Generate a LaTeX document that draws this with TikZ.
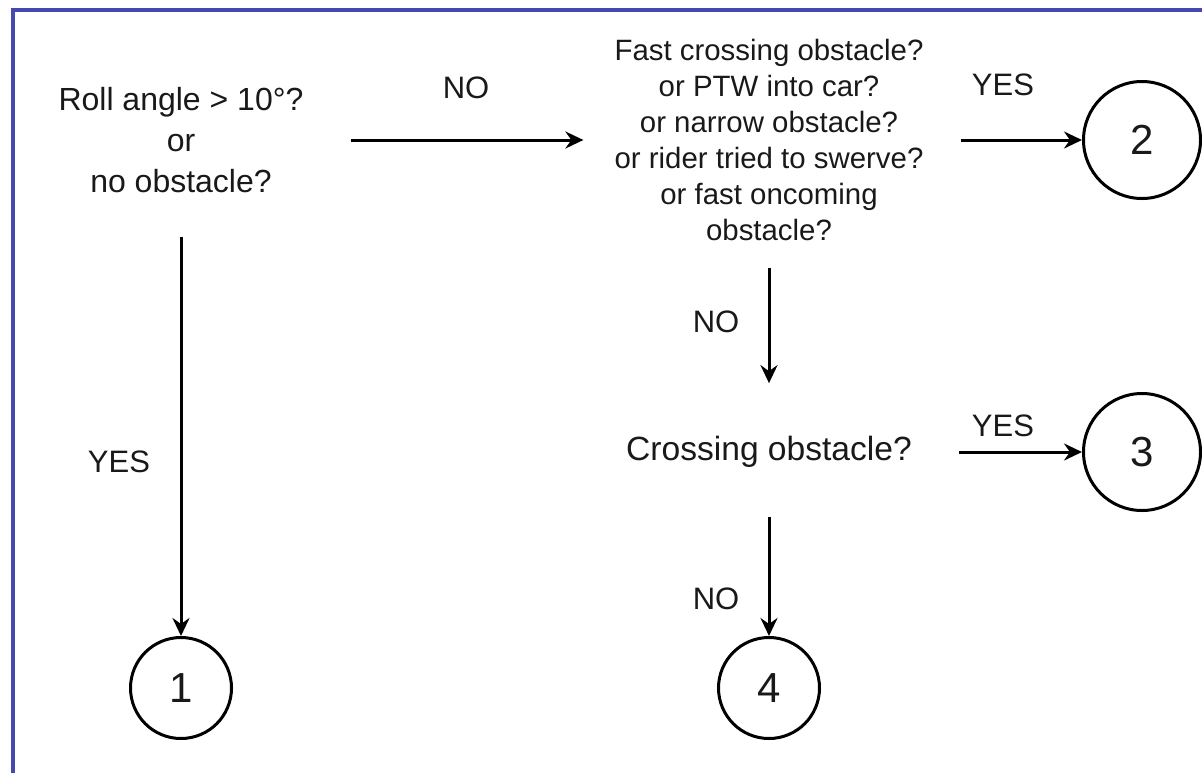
\documentclass[tikz,border=0pt]{standalone}
\usepackage{fontspec}
\setmainfont{Liberation Sans}
\usetikzlibrary{arrows.meta}

\definecolor{frameblue}{RGB}{70,72,178}
\definecolor{ink}{RGB}{25,25,25}

\tikzset{
  question/.style={align=center, inner sep=0pt, text=ink},
  answer/.style={inner sep=0pt, text=ink, font=\fontsize{31}{36}\selectfont},
  outcome/.style={draw, circle, line width=3pt, inner sep=0pt, text=ink,
    font=\fontsize{42}{44}\selectfont},
  flow/.style={line width=3pt, -{Stealth[length=18pt,width=17pt,inset=6pt]}}
}

\begin{document}
\begin{tikzpicture}[x=1pt,y=-1pt]
	\useasboundingbox (0,0) rectangle (1202,772);
	\draw[frameblue, line width=4pt] (13,10) rectangle (1240,800);
	% questions
	\node[question, font=\fontsize{32}{41}\selectfont] (roll) at (181,140)
		{Roll angle > 10°?\\or\\no obstacle?};
	\node[question, font=\fontsize{29.4}{36}\selectfont] (fast) at (769,140)
		{Fast crossing obstacle?\\or PTW into car?\\or narrow obstacle?\\or rider tried to swerve?\\or fast oncoming\\obstacle?};
	\node[question, font=\fontsize{33.6}{40}\selectfont] (cross) at (769,452)
		{Crossing obstacle?};
	% outcomes
	\node[outcome, minimum size=101pt] (c1) at (181,688) {1};
	\node[outcome, minimum size=117pt] (c2) at (1142,140) {2};
	\node[outcome, minimum size=117pt] (c3) at (1142,452) {3};
	\node[outcome, minimum size=101pt] (c4) at (769,688) {4};
	% connectors
	\draw[flow, shorten <=47pt, shorten >=31pt] (roll.east) -- (fast.west);
	\draw[flow, shorten <=37pt] (fast.east) -- (c2);
	\draw[flow, shorten <=27pt, shorten >=53pt] (fast.south) -- (cross.north);
	\draw[flow, shorten <=47pt] (cross.east) -- (c3);
	\draw[flow, shorten <=49pt] (cross.south) -- (c4);
	\draw[flow, shorten <=44pt] (roll.south) -- (c1);
	% labels
	\node[answer] (no1) at (466,88) {NO};
	\node[answer] (yes1) at (1003,85) {YES};
	\node[answer] (no2) at (716,322) {NO};
	\node[answer] (yes2) at (1003,426) {YES};
	\node[answer] (no3) at (716,599) {NO};
	\node[answer] (yes3) at (119,462) {YES};
\end{tikzpicture}
\end{document}
